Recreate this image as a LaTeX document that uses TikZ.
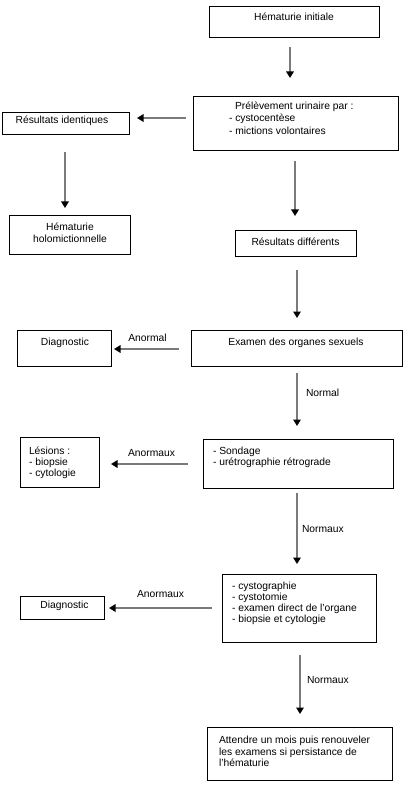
\documentclass[tikz,border=0pt]{standalone}
\usepackage{fontspec}
\setmainfont{Liberation Sans}
\usetikzlibrary{arrows.meta}
\begin{document}
\begin{tikzpicture}[x=1pt,y=-1pt,
  box/.style={draw=black, line width=0.9pt, inner sep=0pt, fill=none},
  txt/.style={inner sep=0pt, outer sep=0pt, font=\fontsize{10.3}{11.5}\selectfont},
  ctxt/.style={txt, anchor=base},
  ltxt/.style={txt, align=left, anchor=base west},
  arr/.style={draw=black!52, line width=1.7pt,
    -{Triangle[width=7.5pt,length=6.5pt,color=black]}},
  lab/.style={txt, anchor=base west}]
\useasboundingbox (0,0) rectangle (409,786);
\fill[white] (0,0) rectangle (409,786);

% boxes
\node[box, minimum width=170pt, minimum height=31pt] (b1) at (294,21.5) {};
\node[box, minimum width=205pt, minimum height=54pt] (b2) at (295.5,123) {};
\node[box, minimum width=127pt, minimum height=22pt] (b3) at (65.5,123) {};
\node[box, minimum width=121pt, minimum height=39pt] (b4) at (69.5,234.5) {};
\node[box, minimum width=121pt, minimum height=26pt] (b5) at (295.5,243) {};
\node[box, minimum width=211pt, minimum height=36pt] (b6) at (296.5,348) {};
\node[box, minimum width=94pt, minimum height=36pt] (b7) at (64,348) {};
\node[box, minimum width=190pt, minimum height=49pt] (b8) at (298,463.5) {};
\node[box, minimum width=79pt, minimum height=50pt] (b9) at (59.5,462) {};
\node[box, minimum width=154pt, minimum height=68pt] (b10) at (299,608) {};
\node[box, minimum width=84pt, minimum height=23pt] (b11) at (62,607.5) {};
\node[box, minimum width=185pt, minimum height=53pt] (b12) at (299.5,753.5) {};

% texts (multi-line nodes: base = baseline of the last line)
\node[ctxt] (t1) at (294,21) {Hématurie initiale};
\node[lab] (t2a) at (235,110) {Prélèvement urinaire par :};
\node[ltxt, font=\fontsize{10.3}{13}\selectfont] (t2b) at (229,135) {- cystocentèse\\- mictions volontaires};
\node[ctxt] (t3) at (62,124) {Résultats identiques};
\node[txt, align=center, anchor=base, font=\fontsize{10.3}{13}\selectfont] (t4) at (70,243) {Hématurie\\holomictionnelle};
\node[ctxt] (t5) at (295.5,245) {Résultats différents};
\node[ctxt] (t6) at (296,345) {Examen des organes sexuels};
\node[ctxt] (t7) at (65,345) {Diagnostic};
\node[ltxt, font=\fontsize{10.3}{11}\selectfont] (t8) at (213,465) {- Sondage\\- urétrographie rétrograde};
\node[ltxt, font=\fontsize{10.3}{11}\selectfont] (t9) at (29,476) {Lésions :\\- biopsie\\- cytologie};
\node[ltxt, font=\fontsize{10.3}{10.7}\selectfont] (t10) at (232,622) {- cystographie\\- cystotomie\\- examen direct de l'organe\\- biopsie et cytologie};
\node[ctxt] (t11) at (64.5,608) {Diagnostic};
\node[ltxt, font=\fontsize{10.3}{11.3}\selectfont] (t12) at (219,766.5) {Attendre un mois puis renouveler\\les examens si persistance de\\l'hématurie};

% arrow end points
\coordinate (a1s) at (290,47);  \coordinate (a1e) at (290,78);
\coordinate (a2s) at (186,118); \coordinate (a2e) at (137,118);
\coordinate (a3s) at (65,152);  \coordinate (a3e) at (65,208);
\coordinate (a4s) at (295,161); \coordinate (a4e) at (295,216);
\coordinate (a5s) at (297,270); \coordinate (a5e) at (297,318);
\coordinate (a6s) at (179,349); \coordinate (a6e) at (114,349);
\coordinate (a7s) at (297,373); \coordinate (a7e) at (297,426);
\coordinate (a8s) at (188,464); \coordinate (a8e) at (111,464);
\coordinate (a9s) at (297,493); \coordinate (a9e) at (297,564);
\coordinate (a10s) at (212,608); \coordinate (a10e) at (109,608);
\coordinate (a11s) at (300,655); \coordinate (a11e) at (300,714);

\draw[arr] (a1s) -- (a1e);
\draw[arr] (a2s) -- (a2e);
\draw[arr] (a3s) -- (a3e);
\draw[arr] (a4s) -- (a4e);
\draw[arr] (a5s) -- (a5e);
\draw[arr] (a6s) -- (a6e);
\draw[arr] (a7s) -- (a7e);
\draw[arr] (a8s) -- (a8e);
\draw[arr] (a9s) -- (a9e);
\draw[arr] (a10s) -- (a10e);
\draw[arr] (a11s) -- (a11e);

% labels
\node[ctxt] (l6) at (147.5,341) {Anormal};
\node[lab] (l7) at (306,396) {Normal};
\node[ctxt] (l8) at (151.5,456) {Anormaux};
\node[lab] (l9) at (302,532) {Normaux};
\node[ctxt] (l10) at (160.5,597) {Anormaux};
\node[lab] (l11) at (307,683) {Normaux};
\end{tikzpicture}
\end{document}
